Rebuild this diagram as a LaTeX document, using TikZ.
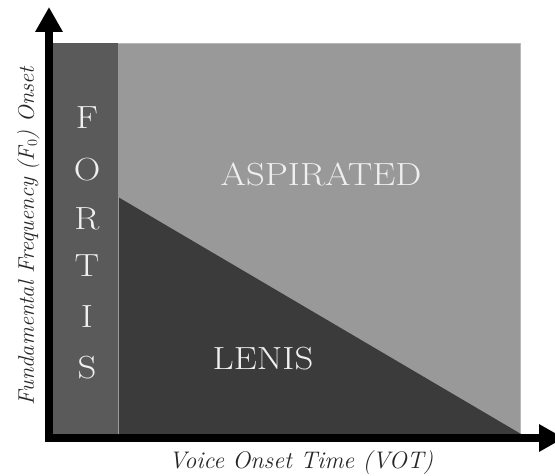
\documentclass[tikz,border=0pt]{standalone}
\usetikzlibrary{arrows.meta}
\definecolor{fortisgray}{HTML}{5A5A5A}
\definecolor{aspgray}{HTML}{999999}
\definecolor{lenisgray}{HTML}{3B3B3B}
\definecolor{labelwhite}{HTML}{F0F0F0}
\newcommand{\widetext}[1]{\scalebox{1.15}[1]{#1}}
\tikzset{
  region label/.style={text=labelwhite, inner sep=0pt, font=\fontsize{32}{32}\selectfont},
  axis label/.style={inner sep=0pt, font=\fontsize{24}{24}\selectfont\itshape, text=black!85},
  axis line/.style={line width=8pt, line join=miter,
    {Triangle[length=25pt,width=26pt]}-{Triangle[length=25pt,width=26pt]}}
}
\begin{document}
\begin{tikzpicture}[x=1pt,y=-1pt]
\useasboundingbox (0,0) rectangle (555,476);
% regions
\fill[aspgray] (118,43) rectangle (521,434);
\draw[aspgray!70!white, line width=0.8pt] (118,43.4) -- (520.6,43.4) -- (520.6,434);
\fill[fortisgray] (53,43) rectangle (118,434);
\fill[lenisgray] (118,197) -- (118,434) -- (521,434) -- cycle;
\draw[fortisgray!60!white, line width=0.6pt] (118,197) -- (118,434);
% axes
\coordinate (ytop) at (49,7);
\coordinate (origin) at (49,438);
\coordinate (xend) at (564,438);
\draw[axis line] (ytop) -- (origin) -- (xend);
% region labels
\node[region label] (asp) at (321,174) {\widetext{ASPIRATED}};
\node[region label] (len) at (263,359) {\widetext{LENIS}};
\node[region label] (f1) at (87,118) {\widetext{F}};
\node[region label] (f2) at (87,170) {\widetext{O}};
\node[region label] (f3) at (87,219) {\widetext{R}};
\node[region label] (f4) at (87,266) {\widetext{T}};
\node[region label] (f5) at (87,317) {\widetext{I}};
\node[region label] (f6) at (87,368) {\widetext{S}};
% axis labels
\node[axis label, anchor=base] (xlab) at (301,468) {Voice Onset Time (\textit{VOT})};
\node[axis label, anchor=base, rotate=90, font=\fontsize{22.5}{22.5}\selectfont\itshape] (ylab) at (34,236) {Fundamental Frequency (\textit{F}$_0$) Onset};
\end{tikzpicture}
\end{document}
